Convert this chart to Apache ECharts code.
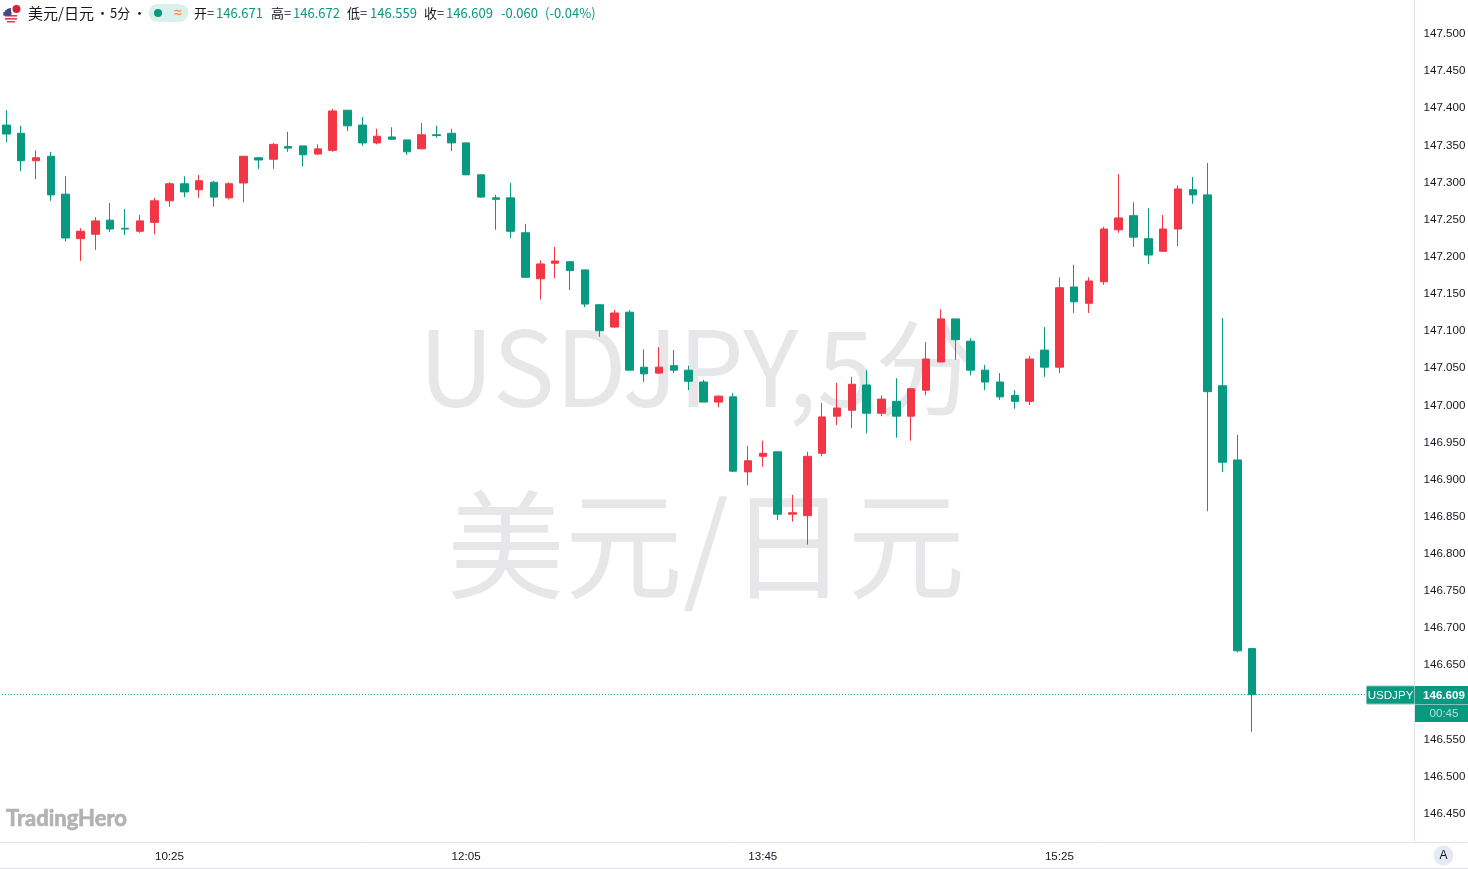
<!DOCTYPE html>
<html><head><meta charset="utf-8">
<style>html,body{margin:0;padding:0;background:#fff}#c{width:1468px;height:869px}</style>
<script src="https://cdn.jsdelivr.net/npm/echarts@6/dist/echarts.min.js"></script>
</head><body><div id="c"></div>
<script>
// Bar times (5 minute bars); the trailing slots are the empty space right of the last bar.
const categories = [
'09:30','09:35','09:40','09:45','09:50','09:55','10:00','10:05','10:10','10:15','10:20','10:25','10:30','10:35','10:40','10:45','10:50','10:55','11:00','11:05',
'11:10','11:15','11:20','11:25','11:30','11:35','11:40','11:45','11:50','11:55','12:00','12:05','12:10','12:15','12:20','12:25','12:30','12:35','12:40','12:45',
'12:50','12:55','13:00','13:05','13:10','13:15','13:20','13:25','13:30','13:35','13:40','13:45','13:50','13:55','14:00','14:05','14:10','14:15','14:20','14:25',
'14:30','14:35','14:40','14:45','14:50','14:55','15:00','15:05','15:10','15:15','15:20','15:25','15:30','15:35','15:40','15:45','15:50','15:55','16:00','16:05',
'16:10','16:15','16:20','16:25','16:30','16:35','16:40','16:45','16:50','16:55','17:00','17:05','17:10','17:15','17:20','17:25','17:30','17:35','17:40'];
const opens = [
147.376,147.365,147.328,147.334,147.283,147.223,147.229,147.248,147.237,147.233,147.245,147.274,147.297,147.289,147.299,147.278,147.298,147.332,147.330,147.347,
147.348,147.337,147.342,147.396,147.376,147.352,147.360,147.356,147.344,147.363,147.365,147.352,147.309,147.278,147.278,147.231,147.169,147.190,147.192,147.181,
147.134,147.104,147.124,147.050,147.042,147.052,147.046,147.030,147.003,147.010,146.909,146.930,146.936,146.852,146.850,146.934,146.984,146.992,147.026,146.988,
147.004,146.984,147.019,147.057,147.115,147.085,147.046,147.030,147.012,147.004,147.073,147.050,147.158,147.136,147.165,147.235,147.254,147.223,147.206,147.236,
147.289,147.282,147.025,146.925,146.671];
const closes = [
147.364,147.328,147.332,147.282,147.224,147.233,147.247,147.236,147.236,147.247,147.274,147.297,147.286,147.301,147.279,147.297,147.334,147.329,147.350,147.345,
147.336,147.344,147.395,147.375,147.352,147.361,147.357,147.340,147.363,147.362,147.352,147.309,147.279,147.276,147.233,147.171,147.189,147.193,147.180,147.135,
147.099,147.123,147.046,147.041,147.050,147.046,147.031,147.003,147.011,146.910,146.924,146.934,146.852,146.854,146.930,146.983,146.995,147.027,146.988,147.007,
146.984,147.021,147.061,147.115,147.087,147.046,147.030,147.010,147.004,147.061,147.050,147.157,147.138,147.166,147.236,147.251,147.225,147.201,147.236,147.290,
147.282,147.017,146.922,146.668,146.609];
const lows = [
147.353,147.314,147.303,147.274,147.219,147.193,147.208,147.232,147.228,147.231,147.229,147.266,147.279,147.278,147.266,147.276,147.272,147.317,147.317,147.340,
147.320,147.336,147.340,147.368,147.348,147.350,147.356,147.336,147.344,147.359,147.341,147.309,147.278,147.235,147.224,147.171,147.141,147.170,147.154,147.131,
147.091,147.103,147.046,147.030,147.041,147.042,147.019,147.003,146.996,146.909,146.891,146.916,146.844,146.842,146.811,146.930,146.972,146.968,146.961,146.984,
146.955,146.951,147.012,147.057,147.060,147.039,147.019,147.006,146.994,146.999,147.037,147.042,147.123,147.123,147.161,147.231,147.212,147.189,147.206,147.213,
147.270,146.856,146.909,146.666,146.559];
const highs = [
147.396,147.375,147.342,147.340,147.307,147.237,147.252,147.271,147.263,147.255,147.278,147.299,147.307,147.309,147.301,147.299,147.334,147.333,147.352,147.367,
147.348,147.350,147.398,147.396,147.387,147.371,147.373,147.356,147.379,147.375,147.371,147.352,147.309,147.282,147.298,147.243,147.194,147.212,147.192,147.181,
147.135,147.127,147.127,147.074,147.077,147.073,147.052,147.033,147.012,147.015,146.944,146.951,146.936,146.878,146.936,147.002,147.029,147.037,147.046,147.012,
147.035,147.021,147.084,147.128,147.115,147.089,147.053,147.042,147.019,147.065,147.104,147.171,147.188,147.171,147.239,147.310,147.272,147.264,147.255,147.295,
147.306,147.325,147.116,146.959,146.672];
const xTickLabels = ['10:25','12:05','13:45','15:25'];
const yTickLabels = ['147.500','147.450','147.400','147.350','147.300','147.250','147.200','147.150','147.100','147.050','147.000','146.950','146.900','146.850','146.800','146.750','146.700','146.650','146.550','146.500','146.450'];
const symbolName = '美元/日元';
const lastPrice = closes[closes.length-1];

const GREEN='#089981', RED='#F23645', LINE='#e0e3eb', AXF='"Liberation Sans",Arial,sans-serif', CJK='"Noto Sans CJK SC","Liberation Sans",sans-serif';
const chart = echarts.init(document.getElementById('c'),null,{renderer:'canvas'});

const headerParts = [
 [28,symbolName,'#131722',15],[96,'•','#131722',13],[110,'5分','#131722',13],[133,'•','#131722',13],
 [194,'开=','#131722',13],[216,opens[84].toFixed(3),GREEN,13],[271,'高=','#131722',13],[293,highs[84].toFixed(3),GREEN,13],
 [347,'低=','#131722',13],[370,lows[84].toFixed(3),GREEN,13],[424,'收=','#131722',13],[446,closes[84].toFixed(3),GREEN,13],
 [501,'-0.060',GREEN,13],[545,'(-0.04%)',GREEN,13]
];
const graphics = [
 {type:'line',z:50,silent:true,shape:{x1:1414.5,y1:0,x2:1414.5,y2:842},style:{stroke:LINE,lineWidth:1}},
 {type:'line',z:50,silent:true,shape:{x1:0,y1:868.5,x2:1468,y2:868.5},style:{stroke:LINE,lineWidth:1}},
 {type:'text',z:0,silent:true,x:699,y:367,style:{text:'USDJPY,5分',fill:'rgba(120,123,134,0.18)',font:'104.5px '+CJK,textAlign:'center',textVerticalAlign:'middle'}},
 {type:'text',z:0,silent:true,x:706,y:545,style:{text:symbolName,fill:'rgba(120,123,134,0.18)',font:'118px '+CJK,textAlign:'center',textVerticalAlign:'middle'}},
 {type:'text',z:0,silent:true,x:6,y:819,style:{text:'TradingHero',fill:'#b2b2b2',stroke:'#b2b2b2',lineWidth:0.7,font:'bold 22px Lato,sans-serif',textVerticalAlign:'middle'}},
 {type:'circle',z:100,silent:true,shape:{cx:11,cy:15.5,r:7.5},style:{fill:'#fff'}},
 {type:'rect',z:101,silent:true,shape:{x:5,y:15,width:12,height:1.6},style:{fill:'#d9404f'}},
 {type:'rect',z:101,silent:true,shape:{x:5,y:18,width:12,height:1.6},style:{fill:'#d9404f'}},
 {type:'rect',z:101,silent:true,shape:{x:7,y:21,width:8,height:1.5},style:{fill:'#d9404f'}},
 {type:'sector',z:101,silent:true,shape:{cx:11,cy:15.5,r:7.5,startAngle:Math.PI,endAngle:Math.PI*1.5},style:{fill:'#3f4a86'}},
 {type:'rect',z:101,silent:true,shape:{x:3.5,y:12,width:8,height:3.5},style:{fill:'#3f4a86'}},
 {type:'circle',z:102,silent:true,shape:{cx:16,cy:9,r:5},style:{fill:'#fff'}},
 {type:'circle',z:103,silent:true,shape:{cx:16.5,cy:9,r:4},style:{fill:'#d5203a'}},
 {type:'rect',z:100,silent:true,shape:{x:148.5,y:4,width:40,height:18,r:9},style:{fill:'#daf0ec'}},
 {type:'circle',z:101,silent:true,shape:{cx:158,cy:13,r:4},style:{fill:GREEN}},
 {type:'text',z:101,silent:true,x:178,y:13,style:{text:'≈',fill:'#f7905f',font:'bold 14px '+AXF,textAlign:'center',textVerticalAlign:'middle'}},
 {type:'circle',z:100,silent:true,shape:{cx:1443.5,cy:855.5,r:10},style:{fill:'#e6e9f2'}},
 {type:'text',z:101,silent:true,x:1443.5,y:856,style:{text:'A',fill:'#131722',font:'12px '+AXF,textAlign:'center',textVerticalAlign:'middle'}}
];
headerParts.forEach(p=>graphics.push({type:'text',z:100,silent:true,x:p[0],y:13,style:{text:p[1],fill:p[2],font:p[3]+'px '+CJK,textVerticalAlign:'middle'}}));

chart.setOption({
  animation:false,
  backgroundColor:'#fff',
  graphic:graphics,
  grid:{left:-1.1,top:33,width:1468.4,height:816.86,containLabel:false,outerBoundsMode:'none'},
  xAxis:{type:'category',data:categories,boundaryGap:true,offset:-7.86,
    axisLine:{show:true,lineStyle:{color:LINE,width:1}},axisTick:{show:false},splitLine:{show:false},
    axisLabel:{margin:9,color:'#131722',fontFamily:AXF,fontSize:11.6,hideOverlap:false,
      interval:(i,v)=>xTickLabels.includes(v)}},
  yAxis:{type:'value',position:'right',min:146.40,max:147.50,interval:0.05,offset:-52.8,
    axisLine:{show:false},axisTick:{show:false},splitLine:{show:false},
    axisLabel:{margin:9,color:'#131722',fontFamily:AXF,fontSize:11.6,showMinLabel:true,showMaxLabel:true,
      rich:{p:{padding:[2,0,0,0],color:'#131722',fontFamily:AXF,fontSize:11.6}},
      formatter:v=>{const s=Number(v).toFixed(3);return yTickLabels.includes(s)?'{p|'+s+'}':'';}}},
  series:[{type:'candlestick',barWidth:8,z:10,
    data:opens.map((o,i)=>[o,closes[i],lows[i],highs[i]]),
    itemStyle:{color:RED,color0:GREEN,borderColor:RED,borderColor0:GREEN,borderWidth:1},
    markLine:{silent:true,symbol:'none',animation:false,label:{show:false},
      lineStyle:{color:GREEN,type:[1,2],width:1,opacity:1},
      data:[{yAxis:lastPrice}]}}]
});
const py = Math.round(chart.convertToPixel({yAxisIndex:0},lastPrice));
const tags = [
 {type:'rect',z:110,silent:true,shape:{x:1366.5,y:py-9,width:48,height:18,r:1},style:{fill:GREEN,stroke:'#7cc8b8',lineWidth:1}},
 {type:'text',z:111,silent:true,x:1390.5,y:py+0.5,style:{text:'USDJPY',fill:'#fff',font:'11.6px '+AXF,textAlign:'center',textVerticalAlign:'middle'}},
 {type:'rect',z:110,silent:true,shape:{x:1415,y:py-9,width:53,height:36},style:{fill:GREEN}},
 {type:'line',z:111,silent:true,shape:{x1:1415,y1:py+9.5,x2:1468,y2:py+9.5},style:{stroke:'#7cc8b8',lineWidth:1}},
 {type:'text',z:111,silent:true,x:1444,y:py+0.5,style:{text:lastPrice.toFixed(3),fill:'#fff',font:'bold 11.6px '+AXF,textAlign:'center',textVerticalAlign:'middle'}},
 {type:'text',z:111,silent:true,x:1444,y:py+18.5,style:{text:'00:45',fill:'#b5e0d6',font:'11.6px '+AXF,textAlign:'center',textVerticalAlign:'middle'}}
];
chart.setOption({graphic:graphics.concat(tags)});
</script></body></html>
